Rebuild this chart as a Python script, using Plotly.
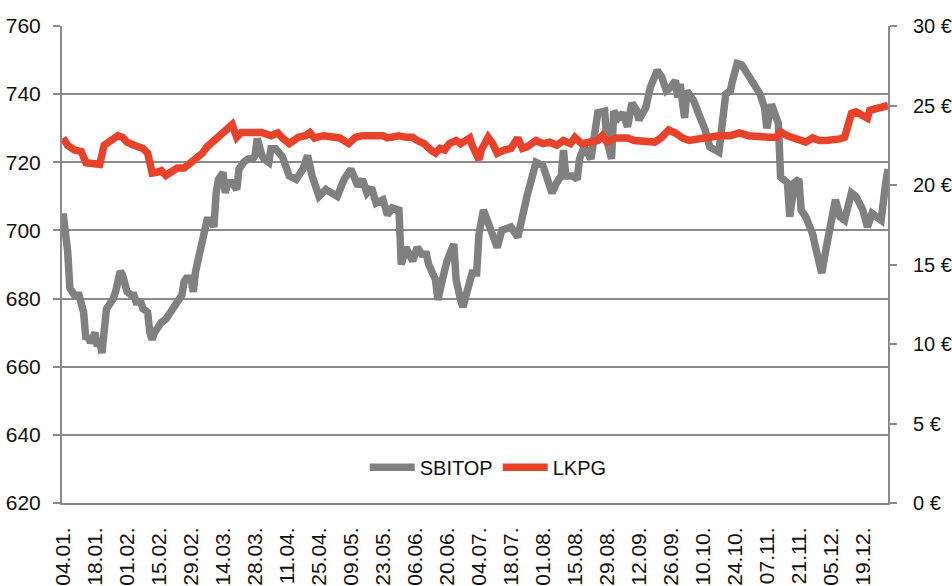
import plotly.graph_objects as go

# SBITOP index (left axis)
sbitop_dates = [
    "2016-01-04","2016-01-05","2016-01-06","2016-01-07","2016-01-09","2016-01-11","2016-01-12","2016-01-13",
    "2016-01-14","2016-01-15","2016-01-16","2016-01-18","2016-01-19","2016-01-20","2016-01-21","2016-01-22",
    "2016-01-23","2016-01-25","2016-01-26","2016-01-27","2016-01-29","2016-01-30","2016-01-31","2016-02-01",
    "2016-02-03","2016-02-04","2016-02-05","2016-02-07","2016-02-08","2016-02-10","2016-02-11","2016-02-12",
    "2016-02-13","2016-02-15","2016-02-16","2016-02-18","2016-02-20","2016-02-22","2016-02-23","2016-02-25",
    "2016-02-26","2016-02-27","2016-02-29","2016-03-01","2016-03-02","2016-03-04","2016-03-06","2016-03-07",
    "2016-03-09","2016-03-10","2016-03-11","2016-03-12","2016-03-14","2016-03-15","2016-03-16","2016-03-18",
    "2016-03-19","2016-03-20","2016-03-21","2016-03-23","2016-03-25","2016-03-27","2016-03-28","2016-03-29",
    "2016-03-31","2016-04-01","2016-04-03","2016-04-04","2016-04-06","2016-04-09","2016-04-12","2016-04-15",
    "2016-04-18","2016-04-20","2016-04-22","2016-04-25","2016-04-28","2016-05-01","2016-05-03","2016-05-06",
    "2016-05-09","2016-05-12","2016-05-14","2016-05-16","2016-05-18","2016-05-20","2016-05-23","2016-05-25",
    "2016-05-27","2016-05-30","2016-05-31","2016-06-02","2016-06-05","2016-06-07","2016-06-09","2016-06-11",
    "2016-06-12","2016-06-15","2016-06-16","2016-06-18","2016-06-20","2016-06-23","2016-06-24","2016-06-26",
    "2016-06-27","2016-06-29","2016-07-01","2016-07-03","2016-07-04","2016-07-06","2016-07-09","2016-07-12",
    "2016-07-14","2016-07-18","2016-07-21","2016-07-23","2016-07-25","2016-07-27","2016-07-29","2016-08-01",
    "2016-08-03","2016-08-05","2016-08-07","2016-08-09","2016-08-10","2016-08-11","2016-08-14","2016-08-16",
    "2016-08-17","2016-08-19","2016-08-22","2016-08-24","2016-08-25","2016-08-28","2016-08-29","2016-08-31",
    "2016-09-01","2016-09-03","2016-09-05","2016-09-07","2016-09-09","2016-09-11","2016-09-12","2016-09-15",
    "2016-09-17","2016-09-20","2016-09-22","2016-09-24","2016-09-26","2016-09-28","2016-09-29","2016-09-30",
    "2016-10-02","2016-10-03","2016-10-06","2016-10-08","2016-10-11","2016-10-13","2016-10-15","2016-10-17",
    "2016-10-20","2016-10-22","2016-10-23","2016-10-25","2016-10-27","2016-10-30","2016-11-02","2016-11-04",
    "2016-11-06","2016-11-07","2016-11-09","2016-11-10","2016-11-12","2016-11-13","2016-11-16","2016-11-17",
    "2016-11-19","2016-11-21","2016-11-22","2016-11-24","2016-11-27","2016-11-29","2016-12-01","2016-12-03",
    "2016-12-05","2016-12-07","2016-12-09","2016-12-11","2016-12-14","2016-12-16","2016-12-19","2016-12-21",
    "2016-12-23","2016-12-25","2016-12-27","2016-12-29","2016-12-30",
]
sbitop_values = [
    705, 701, 694, 683, 681, 681, 679, 676,
    668, 669, 667, 670, 666, 668, 664, 674,
    677, 679, 680, 682, 688, 687, 685, 682,
    681, 681, 679, 679, 677, 676, 670, 668,
    670, 672, 673, 674, 676, 678, 679, 681,
    685, 686, 686, 682, 688, 694, 698, 703,
    703, 701, 711, 715, 717, 711, 714, 714,
    713, 712, 718, 720, 721, 721, 722, 727,
    722, 721, 720, 724, 724, 721.6, 716, 715,
    718, 722, 716, 710, 712, 711, 710, 715,
    718, 713, 715, 711, 712.5, 708, 709, 704.5,
    706.6, 706, 690, 695, 691, 695, 693, 693,
    690, 685.5, 679.6, 685.5, 691, 696, 685.5, 679.6,
    677.5, 682.5, 687.5, 687.5, 699, 706, 700, 695,
    700, 701, 698, 705, 710, 715, 720, 719,
    715, 711, 714, 716, 723.6, 716, 716, 715,
    721, 724.5, 721, 728.6, 734.5, 735, 726.5, 721,
    735, 733, 734.5, 730.4, 737.4, 735.3, 732.4, 736,
    742, 747, 745, 741, 742, 744, 739, 743,
    733, 741, 738, 734.5, 729.5, 724.5, 723.6, 723,
    740, 741, 744, 749, 748.6, 745, 742, 740,
    736, 730, 737, 735, 731.5, 715.7, 714, 704,
    714, 715, 706, 704, 699, 693, 687.5, 695,
    703, 709, 704, 703, 711, 710, 706, 701,
    705, 704, 703, 714, 718,
]

# LKPG share price in EUR (right axis)
lkpg_dates = [
    "2016-01-04","2016-01-06","2016-01-09","2016-01-12","2016-01-14","2016-01-16","2016-01-18","2016-01-20",
    "2016-01-22","2016-01-25","2016-01-28","2016-01-30","2016-02-01","2016-02-04","2016-02-08","2016-02-10",
    "2016-02-12","2016-02-14","2016-02-16","2016-02-18","2016-02-21","2016-02-23","2016-02-26","2016-02-29",
    "2016-03-02","2016-03-05","2016-03-07","2016-03-10","2016-03-12","2016-03-14","2016-03-16","2016-03-18",
    "2016-03-20","2016-03-22","2016-03-25","2016-03-28","2016-03-31","2016-04-04","2016-04-07","2016-04-09",
    "2016-04-12","2016-04-16","2016-04-19","2016-04-21","2016-04-23","2016-04-27","2016-05-01","2016-05-04",
    "2016-05-08","2016-05-11","2016-05-14","2016-05-16","2016-05-19","2016-05-23","2016-05-25","2016-05-27",
    "2016-05-30","2016-06-02","2016-06-05","2016-06-07","2016-06-10","2016-06-13","2016-06-15","2016-06-17",
    "2016-06-19","2016-06-21","2016-06-24","2016-06-26","2016-06-28","2016-06-30","2016-07-01","2016-07-04",
    "2016-07-05","2016-07-07","2016-07-08","2016-07-10","2016-07-12","2016-07-15","2016-07-18","2016-07-21",
    "2016-07-23","2016-07-25","2016-07-29","2016-08-01","2016-08-04","2016-08-07","2016-08-10","2016-08-13",
    "2016-08-15","2016-08-18","2016-08-22","2016-08-25","2016-08-27","2016-08-29","2016-09-02","2016-09-05",
    "2016-09-07","2016-09-10","2016-09-13","2016-09-16","2016-09-19","2016-09-22","2016-09-25","2016-09-28",
    "2016-10-01","2016-10-04","2016-10-09","2016-10-13","2016-10-17","2016-10-22","2016-10-26","2016-10-30",
    "2016-11-04","2016-11-08","2016-11-11","2016-11-13","2016-11-16","2016-11-19","2016-11-21","2016-11-24",
    "2016-11-27","2016-11-30","2016-12-03","2016-12-06","2016-12-09","2016-12-11","2016-12-12","2016-12-14",
    "2016-12-16","2016-12-19","2016-12-21","2016-12-22","2016-12-25","2016-12-28","2016-12-30",
]
lkpg_values = [
    22.96, 22.5, 22.2, 22.1, 21.4, 21.4, 21.4, 21.3,
    22.5, 22.8, 23.1, 23.0, 22.7, 22.5, 22.3, 22.0,
    20.75, 20.8, 20.9, 20.6, 20.9, 21.07, 21.07, 21.4,
    21.6, 22.0, 22.4, 22.8, 23.0, 23.3, 23.6, 23.8,
    23.0, 23.3, 23.3, 23.3, 23.3, 23.1, 23.27, 22.96,
    22.6, 23.0, 23.1, 23.3, 22.96, 23.1, 23.0, 22.96,
    22.6, 23.0, 23.1, 23.1, 23.0, 23.1, 22.96, 23.0,
    23.1, 23.0, 23.0, 22.8, 22.6, 22.2, 22.0, 22.3,
    22.2, 22.6, 22.8, 22.6, 22.8, 22.96, 22.5, 21.6,
    22.2, 22.6, 23.0, 22.6, 22.0, 22.2, 22.3, 22.96,
    22.3, 22.4, 22.8, 22.6, 22.7, 22.5, 22.8, 22.6,
    23.0, 22.6, 22.7, 22.8, 23.1, 22.7, 22.96, 22.96,
    22.96, 22.8, 22.8, 22.7, 22.7, 23.0, 23.46, 23.27,
    22.96, 22.8, 22.96, 23.0, 23.1, 23.1, 23.27, 23.1,
    23.0, 23.0, 23.0, 23.33, 23.1, 22.96, 22.8, 22.7,
    22.96, 22.8, 22.8, 22.8, 22.9, 23.0, 23.6, 24.5,
    24.6, 24.4, 24.2, 24.7, 24.8, 24.84, 25.0,
]

tick_dates = [
    "2016-01-04","2016-01-18","2016-02-01","2016-02-15","2016-02-29","2016-03-14","2016-03-28",
    "2016-04-11","2016-04-25","2016-05-09","2016-05-23","2016-06-06","2016-06-20","2016-07-04",
    "2016-07-18","2016-08-01","2016-08-15","2016-08-29","2016-09-12","2016-09-26","2016-10-10",
    "2016-10-24","2016-11-07","2016-11-21","2016-12-05","2016-12-19",
]
tick_labels = [
    "04.01.","18.01.","01.02.","15.02.","29.02.","14.03.","28.03.",
    "11.04.","25.04.","09.05.","23.05.","06.06.","20.06.","04.07.",
    "18.07.","01.08.","15.08.","29.08.","12.09.","26.09.","10.10.",
    "24.10.","07.11.","21.11.","05.12.","19.12.",
]
left_ticks = [620, 640, 660, 680, 700, 720, 740, 760]
right_ticks = [0, 5, 10, 15, 20, 25, 30]
right_labels = ["0 €", "5 €", "10 €", "15 €", "20 €", "25 €", "30 €"]

GRAY = "#808080"
RED = "#E8432A"
AX = "#8a8a8a"
FONT = "Liberation Sans, Arial, sans-serif"

fig = go.Figure()
fig.add_trace(go.Scatter(x=sbitop_dates, y=sbitop_values, name="SBITOP", mode="lines",
                         line=dict(color=GRAY, width=7.5), yaxis="y"))
fig.add_trace(go.Scatter(x=lkpg_dates, y=lkpg_values, name="LKPG", mode="lines",
                         line=dict(color=RED, width=7.5), yaxis="y2"))

fig.update_layout(
    width=952, height=586,
    margin=dict(l=62, r=64, t=26, b=83, autoexpand=False),
    paper_bgcolor="white", plot_bgcolor="white",
    font=dict(family=FONT, size=21, color="#111111"),
    showlegend=True,
    legend=dict(orientation="h", x=0.516, y=0.075, xanchor="center", yanchor="middle",
                bgcolor="rgba(255,255,255,0)", font=dict(size=20), itemwidth=45,
                tracegroupgap=0),
    xaxis=dict(type="date", range=["2016-01-03 13:00", "2016-12-30"], automargin=False,
               tickmode="array", tickvals=tick_dates, ticktext=tick_labels,
               tickangle=-90, ticks="", showgrid=False, zeroline=False,
               showline=True, linecolor=AX, linewidth=2,
               tickfont=dict(size=21), ticklabelstandoff=14),
    yaxis=dict(range=[620, 760], tickmode="array", tickvals=left_ticks, automargin=False,
               showgrid=True, gridcolor=AX, gridwidth=2, zeroline=False,
               showline=True, linecolor=AX, linewidth=2,
               ticks="outside", ticklen=7, tickwidth=2, tickcolor=AX,
               tickfont=dict(size=21), ticklabelstandoff=8),
    yaxis2=dict(range=[0, 30], overlaying="y", side="right", automargin=False,
                tickmode="array", tickvals=right_ticks, ticktext=right_labels,
                showgrid=False, zeroline=False,
                showline=True, linecolor=AX, linewidth=2,
                ticks="outside", ticklen=7, tickwidth=2, tickcolor=AX,
                tickfont=dict(size=20), ticklabelstandoff=12),
)

fig.write_html("out.html", config={"displayModeBar": False},
               post_script="document.body.style.margin='0px';document.body.style.overflow='hidden';")
